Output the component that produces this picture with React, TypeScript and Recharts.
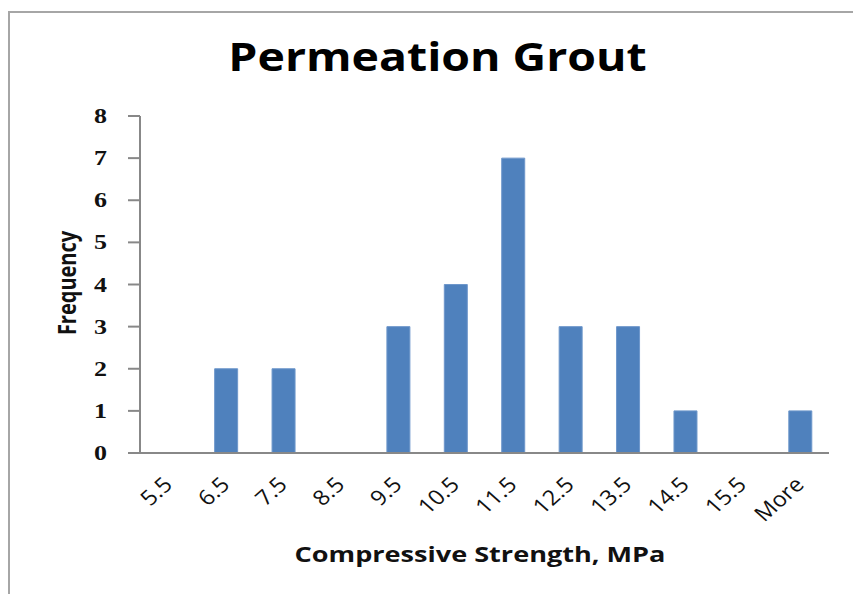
import React from 'react';
import { BarChart, Bar, XAxis, YAxis } from 'recharts';

const bins = ['5.5', '6.5', '7.5', '8.5', '9.5', '10.5', '11.5', '12.5', '13.5', '14.5', '15.5', 'More'];
const frequency = [0, 2, 2, 0, 3, 4, 7, 3, 3, 1, 0, 1];
const yTicks = [0, 1, 2, 3, 4, 5, 6, 7, 8];
const binEdges = [0, 1, 2, 3, 4, 5, 6, 7, 8, 9, 10, 11, 12];

const data = bins.map((bin, i) => ({ bin, idx: i + 0.5, frequency: frequency[i] }));

const axisColor = '#888888';
const sans = '"Open Sans", "DejaVu Sans", sans-serif';

// the original picture is stretched sideways, so the texts get a horizontal scale
const BinTick = (props: any) => {
    const { x, y, payload } = props;
    return (
        <text
            transform={`translate(${x + 5} ${y + 25}) scale(1.12 1) rotate(-45)`}
            textAnchor="end"
            style={{ fontFamily: sans, fontSize: 21 }}
            fill="#111"
        >
            {payload.value}
        </text>
    );
};

const CountTick = (props: any) => {
    const { y, payload } = props;
    return (
        <text
            transform={`translate(107 ${y + 7}) scale(1.3 1)`}
            textAnchor="end"
            style={{ fontFamily: '"Liberation Serif", serif', fontSize: 20, fontWeight: 700 }}
            fill="#111"
        >
            {payload.value}
        </text>
    );
};

const App: React.FC = () => {
    return (
        <div style={{ position: 'absolute', left: 0, top: 0, width: 853, height: 594, background: '#fff', overflow: 'hidden' }}>
            <div
                style={{
                    position: 'absolute', left: 8, top: 11, width: 900, height: 700,
                    borderLeft: '2px solid #a6a6a6', borderTop: '2px solid #a6a6a6',
                }}
            />
            <div
                style={{
                    position: 'absolute', left: 0, width: 875, top: 31, textAlign: 'center',
                    fontFamily: sans, fontWeight: 700, fontSize: 39, color: '#000',
                    transform: 'scaleX(1.19)', lineHeight: '50px',
                }}
            >
                Permeation Grout
            </div>
            <div style={{ position: 'absolute', left: 0, top: 0 }}>
                <BarChart
                    width={853}
                    height={594}
                    data={data}
                    barCategoryGap="30%"
                    margin={{ top: 116, right: 24, left: 60, bottom: 41 }}
                >
                    <XAxis
                        xAxisId="cat"
                        dataKey="bin"
                        tickLine={false}
                        axisLine={{ stroke: axisColor, strokeWidth: 2 }}
                        tick={(p: any) => <BinTick {...p} />}
                        interval={0}
                        height={100}
                        label={{
                            content: () => (
                                <text
                                    transform="translate(480 562) scale(1.29 1)"
                                    textAnchor="middle"
                                    style={{ fontFamily: sans, fontWeight: 700, fontSize: 21 }}
                                    fill="#111"
                                >
                                    Compressive Strength, MPa
                                </text>
                            ),
                        }}
                    />
                    <XAxis
                        xAxisId="edges"
                        dataKey="idx"
                        type="number"
                        domain={[0, 12]}
                        ticks={binEdges}
                        tick={false}
                        tickSize={9}
                        tickLine={{ stroke: axisColor, strokeWidth: 2 }}
                        axisLine={false}
                        height={0}
                    />
                    <YAxis
                        domain={[0, 8]}
                        ticks={yTicks}
                        width={80}
                        tickSize={12}
                        interval={0}
                        tickLine={{ stroke: axisColor, strokeWidth: 2 }}
                        axisLine={{ stroke: axisColor, strokeWidth: 2 }}
                        tick={(p: any) => <CountTick {...p} />}
                        label={{
                            content: () => (
                                <text
                                    transform="translate(76 283) scale(1.25 1) rotate(-90)"
                                    textAnchor="middle"
                                    style={{ fontFamily: sans, fontWeight: 700, fontSize: 20 }}
                                    fill="#111"
                                >
                                    Frequency
                                </text>
                            ),
                        }}
                    />
                    <Bar xAxisId="cat" dataKey="frequency" fill="#4F81BD" stroke="#6E97CB" strokeWidth={1} isAnimationActive={false} />
                </BarChart>
            </div>
        </div>
    );
};

export default App;
